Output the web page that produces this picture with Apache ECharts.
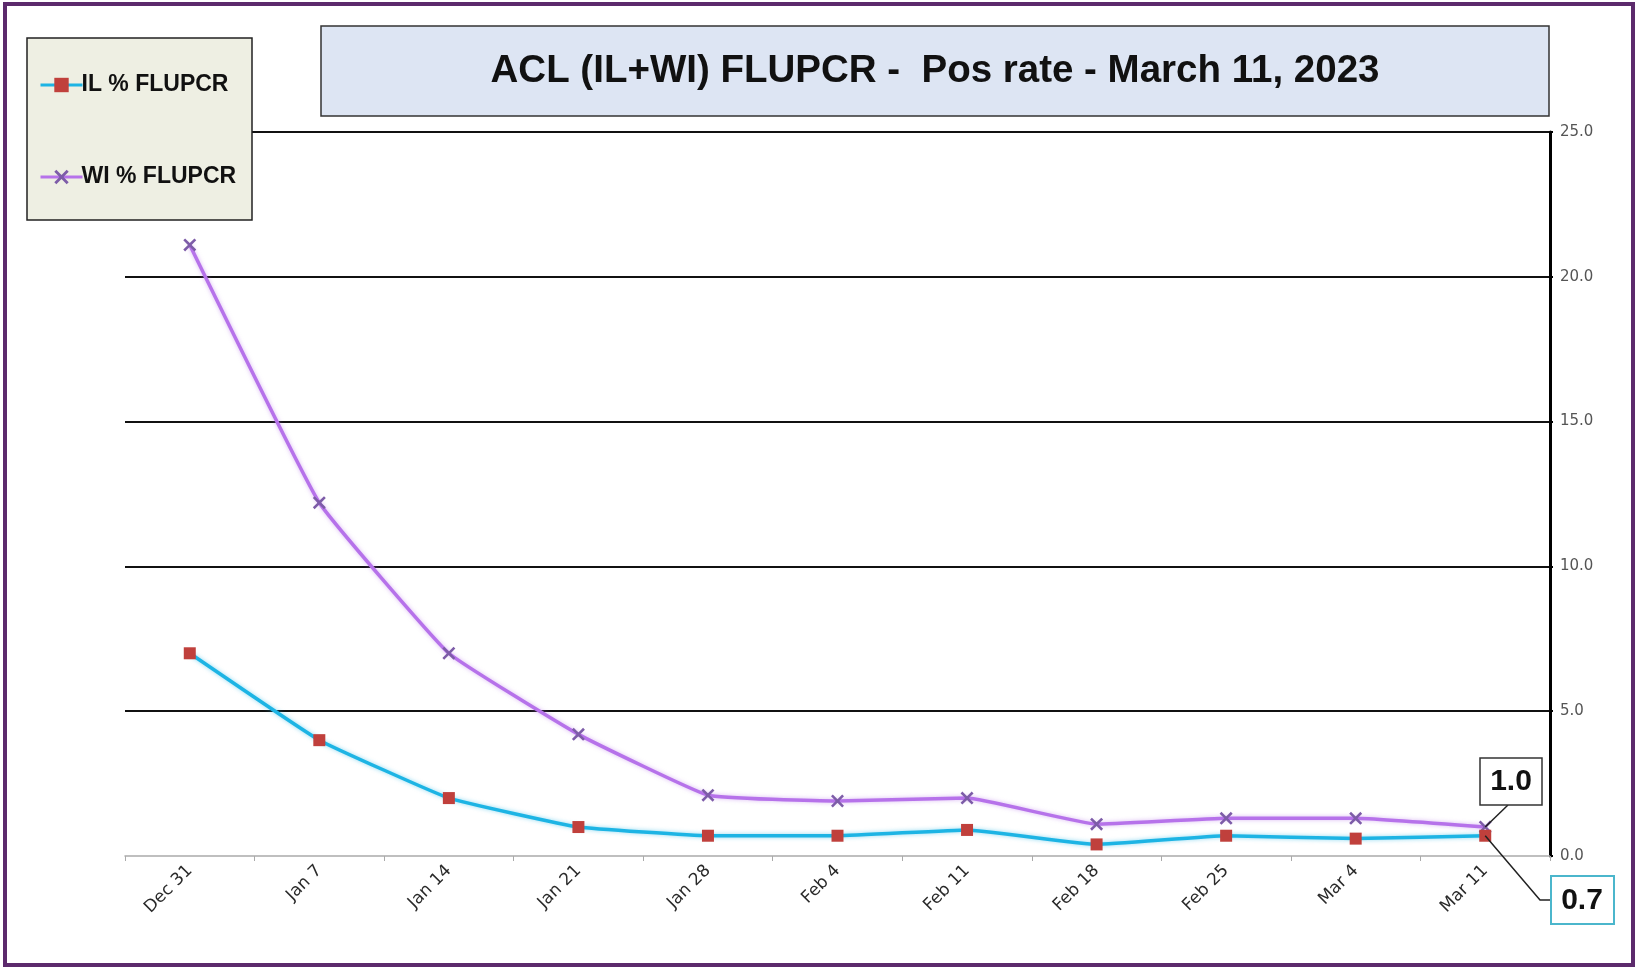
<!DOCTYPE html>
<html>
<head>
<meta charset="utf-8">
<script src="https://cdn.jsdelivr.net/npm/echarts@6/dist/echarts.min.js"></script>
<style>
html,body{margin:0;padding:0;background:#fff;}
#main{width:1637px;height:968px;}
</style>
</head>
<body>
<div id="main"></div>
<script>
const categories = ['Dec 31','Jan 7','Jan 14','Jan 21','Jan 28','Feb 4','Feb 11','Feb 18','Feb 25','Mar 4','Mar 11'];
const ilValues = [7.0, 4.0, 2.0, 1.0, 0.7, 0.7, 0.9, 0.4, 0.7, 0.6, 0.7];
const wiValues = [21.1, 12.2, 7.0, 4.2, 2.1, 1.9, 2.0, 1.1, 1.3, 1.3, 1.0];
const yTicks = [0, 5, 10, 15, 20, 25];
const titleText = 'ACL (IL+WI) FLUPCR -  Pos rate - March 11, 2023';
const ilName = 'IL % FLUPCR';
const wiName = 'WI % FLUPCR';

const xPath = 'path://M0,1.4L1.4,0L5,3.6L8.6,0L10,1.4L6.4,5L10,8.6L8.6,10L5,6.4L1.4,10L0,8.6L3.6,5Z';
const chart = echarts.init(document.getElementById('main'), null, {renderer:'canvas'});

const option = {
  backgroundColor: '#ffffff',
  animation: false,
  grid: {left: 125, right: 87, top: 132, bottom: 112, containLabel: false},
  legend: {
    orient: 'vertical',
    left: 34, top: 68,
    itemWidth: 42, itemHeight: 18, itemGap: 68,
    data: [ilName, wiName],
    lineStyle: {width: 3},
    textStyle: {fontFamily: 'Liberation Sans, Arial, sans-serif', fontWeight: 'bold', fontSize: 23, color: '#111', lineHeight: 24, padding: [0,0,0,-6]},
    z: 20
  },
  xAxis: {
    type: 'category',
    data: categories,
    boundaryGap: true,
    axisLine: {show: true, lineStyle: {color: '#aaaaaa', width: 1.5}},
    axisTick: {show: true, interval: 0, length: 5, lineStyle: {color: '#aaaaaa'}},
    axisLabel: {interval: 0, rotate: 45, fontFamily: 'DejaVu Sans, sans-serif', fontSize: 17, color: '#2a2a2a', margin: 12},
    splitLine: {show: false}
  },
  yAxis: {
    type: 'value',
    position: 'right',
    min: yTicks[0], max: yTicks[yTicks.length-1], interval: 5,
    axisLine: {show: true, lineStyle: {color: '#000', width: 3}},
    axisTick: {show: true, inside: false, length: 3, lineStyle: {color: '#000', width: 2}},
    axisLabel: {fontFamily: 'DejaVu Sans, sans-serif', fontSize: 15, color: '#555', margin: 10, formatter: v => v.toFixed(1)},
    splitLine: {show: true, lineStyle: {color: ['transparent','#111','#111','#111','#111','#111'], width: 2}}
  },
  series: [
    {
      name: ilName, type: 'line', data: ilValues, smooth: 0.1,
      symbol: 'rect', symbolSize: 12,
      lineStyle: {color: '#1db4e4', width: 3.5, shadowColor: 'rgba(29,180,228,0.5)', shadowBlur: 4},
      itemStyle: {color: '#c0403c'},
      z: 3
    },
    {
      name: wiName, type: 'line', data: wiValues, smooth: 0.1,
      symbol: xPath, symbolSize: 13,
      lineStyle: {color: '#b672ea', width: 3.5, shadowColor: 'rgba(182,114,234,0.5)', shadowBlur: 4},
      itemStyle: {color: '#7d5ca8'},
      z: 2
    }
  ]
};
chart.setOption(option);

const n = categories.length - 1;
const pWI = chart.convertToPixel('grid', [n, wiValues[n]]);
const pIL = chart.convertToPixel('grid', [n, ilValues[n]]);

chart.setOption({
  graphic: [
    {type: 'rect', z: -10, silent: true, shape: {x: 5, y: 4, width: 1628, height: 961}, style: {fill: 'none', stroke: '#5c2a6c', lineWidth: 4}},
    {type: 'rect', z: 10, silent: true, shape: {x: 321, y: 26, width: 1228, height: 90}, style: {fill: '#dde5f3', stroke: '#333', lineWidth: 1.5}},
    {type: 'text', z: 11, silent: true, x: 935, y: 71, style: {text: titleText, fontFamily: 'Liberation Sans, Arial, sans-serif', fontWeight: 'bold', fontSize: 38.5, fill: '#111', align: 'center', verticalAlign: 'middle'}},
    {type: 'rect', z: 10, zlevel: 0, silent: true, shape: {x: 27, y: 38, width: 225, height: 182}, style: {fill: '#eeefe3', stroke: '#222', lineWidth: 1.5}},
    {type: 'polyline', z: 12, silent: true, shape: {points: [[pWI[0], pWI[1]], [1508, 805]]}, style: {stroke: '#222', lineWidth: 1.5, fill: 'none'}},
    {type: 'polyline', z: 12, silent: true, shape: {points: [[pIL[0], pIL[1]], [1540, 900], [1551, 900]]}, style: {stroke: '#222', lineWidth: 1.5, fill: 'none'}},
    {type: 'rect', z: 12, silent: true, shape: {x: 1480, y: 758, width: 62, height: 47}, style: {fill: '#fff', stroke: '#333', lineWidth: 1.5}},
    {type: 'text', z: 13, silent: true, x: 1511, y: 782, style: {text: wiValues[n].toFixed(1), fontFamily: 'Liberation Sans, Arial, sans-serif', fontWeight: 'bold', fontSize: 30, fill: '#111', align: 'center', verticalAlign: 'middle'}},
    {type: 'rect', z: 12, silent: true, shape: {x: 1551, y: 876, width: 63, height: 48}, style: {fill: '#fff', stroke: '#4bb6cc', lineWidth: 2}},
    {type: 'text', z: 13, silent: true, x: 1582, y: 901, style: {text: ilValues[n].toFixed(1), fontFamily: 'Liberation Sans, Arial, sans-serif', fontWeight: 'bold', fontSize: 30, fill: '#111', align: 'center', verticalAlign: 'middle'}}
  ]
});
</script>
</body>
</html>
